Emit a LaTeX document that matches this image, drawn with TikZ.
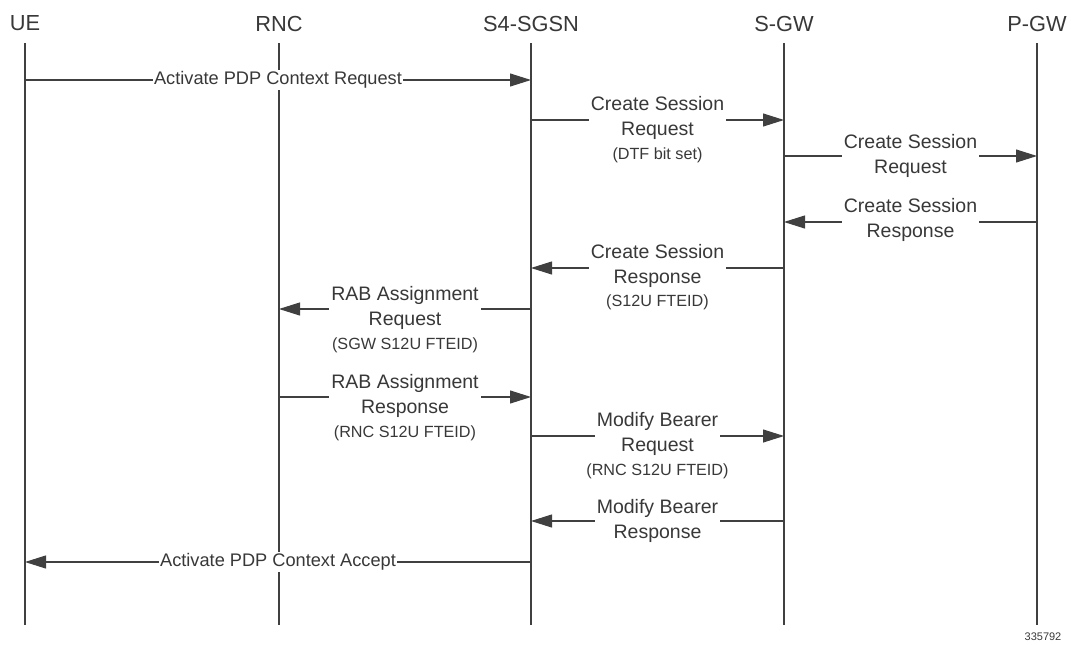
\documentclass[tikz,border=0pt]{standalone}
\usepackage{fontspec}
\setmainfont{Liberation Sans}
\usetikzlibrary{arrows.meta,calc}
\definecolor{ln}{HTML}{404040}
\definecolor{tx}{HTML}{383838}
\begin{document}
\begin{tikzpicture}[x=1pt,y=-1pt,
 head/.style={font=\fontsize{21.8}{24}\selectfont, text=tx, inner sep=0pt},
 life/.style={draw=ln, line width=1.1pt},
 msg/.style={draw=ln, line width=1.1pt, -{Triangle[length=21pt,width=13pt]}},
 lbl/.style={font=\fontsize{19.5}{25}\selectfont, text=tx, fill=white, align=center, inner xsep=2pt, inner ysep=1pt},
 one/.style={font=\fontsize{18.2}{25}\selectfont, text=tx, fill=white, inner xsep=1pt, inner ysep=2pt},
 sub/.style={font=\fontsize{16.2}{18}\selectfont, text=tx, inner sep=0pt},
 tag/.style={font=\fontsize{11}{13}\selectfont, text=tx, inner sep=0pt}]
\useasboundingbox (0,0) rectangle (1071,645);

\node[head] (ue)   at (25,23.5)   {UE};
\node[head] (rnc)  at (279,23.5)  {RNC};
\node[head] (sgsn) at (531,23.5)  {S4-SGSN};
\node[head] (sgw)  at (784,23.5)  {S-GW};
\node[head] (pgw)  at (1037,23.5) {P-GW};

\foreach \n in {ue,rnc,sgsn,sgw,pgw}
  \draw[life] (\n |- 0,43) -- (\n |- 0,625);

% 1
\draw[msg] (ue |- 0,80) -- (sgsn |- 0,80)
  node[one, midway] {Activate PDP Context Request};
% 2
\draw[msg] (sgsn |- 0,120) -- (sgw |- 0,120)
  node[lbl, midway, yshift=2.5pt] {Create Session\\Request}
  node[sub, midway, yshift=-35pt] {(DTF bit set)};
% 3
\draw[msg] (sgw |- 0,156) -- (pgw |- 0,156)
  node[lbl, midway, yshift=0.5pt] {Create Session\\Request};
% 4
\draw[msg] (pgw |- 0,222) -- (sgw |- 0,222)
  node[lbl, midway, yshift=2.5pt] {Create Session\\Response};
% 5
\draw[msg] (sgw |- 0,268) -- (sgsn |- 0,268)
  node[lbl, midway, yshift=2.5pt] {Create Session\\Response}
  node[sub, midway, yshift=-34pt] {(S12U FTEID)};
% 6
\draw[msg] (sgsn |- 0,309) -- (rnc |- 0,309)
  node[lbl, midway, yshift=1.5pt] {RAB Assignment\\Request}
  node[sub, midway, yshift=-36pt] {(SGW S12U FTEID)};
% 7
\draw[msg] (rnc |- 0,397) -- (sgsn |- 0,397)
  node[lbl, midway, yshift=1pt] {RAB Assignment\\Response}
  node[sub, midway, yshift=-36pt] {(RNC S12U FTEID)};
% 8
\draw[msg] (sgsn |- 0,436) -- (sgw |- 0,436)
  node[lbl, midway, yshift=2.5pt] {Modify Bearer\\Request}
  node[sub, midway, yshift=-35pt] {(RNC S12U FTEID)};
% 9
\draw[msg] (sgw |- 0,521) -- (sgsn |- 0,521)
  node[lbl, midway, yshift=0.5pt] {Modify Bearer\\Response};
% 10
\draw[msg] (sgsn |- 0,562) -- (ue |- 0,562)
  node[one, midway] {Activate PDP Context Accept};

\node[tag] (id) at (1043,637) {335792};
\end{tikzpicture}
\end{document}
